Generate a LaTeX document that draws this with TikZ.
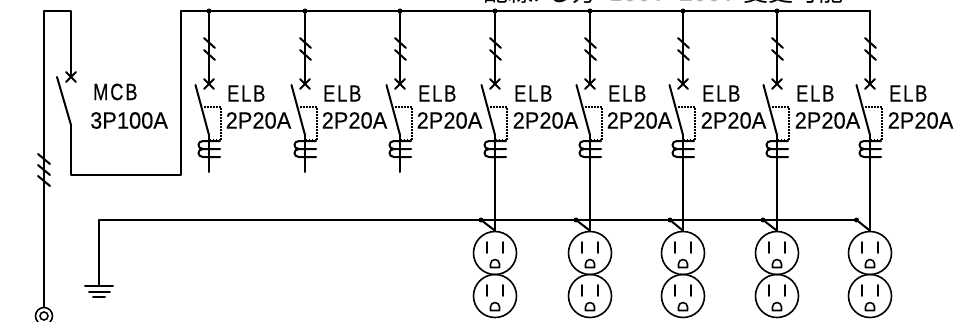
\documentclass[tikz,border=0pt]{standalone}
\usepackage{fontspec}
\setmainfont{Liberation Sans}
\newfontfamily\cjkf{Noto Sans CJK JP}
\tikzset{
  wire/.style={line width=2pt,line cap=round,line join=round},
  thin wire/.style={line width=1.6pt,line cap=round,line join=round},
  aux/.style={line width=1.2pt,dash pattern=on 1.5pt off 1.5pt},
  lab/.style={inner sep=0pt,font=\fontsize{23.5}{24}\selectfont\addfontfeature{FakeBold=0.3},xscale=.93,anchor=west},
  labn/.style={inner sep=0pt,font=\fontsize{23.5}{24}\selectfont\addfontfeature{LetterSpace=10,FakeBold=0.3},xscale=.78,anchor=west},
  dot/.style={circle,fill=black,inner sep=0pt,minimum size=5pt},
  sock/.style={circle,draw,line width=1.6pt,inner sep=0pt,minimum size=43pt},
}
\begin{document}
\begin{tikzpicture}[x=1pt,y=-1pt]
\useasboundingbox (0,0) rectangle (957,321);
\fill[white] (0,0) rectangle (957,321);
% clipped heading
\node[inner sep=0pt,anchor=base west,font=\fontsize{25}{25}\cjkf] (head) at (483,2) {配線: し方\hspace{12pt}\textcolor{gray!60}{100V\hspace{14pt}200V}\hspace{8pt}変更可能};
% feeder
\coordinate (c1) at (44,11);
\coordinate (c2) at (71,11);
\coordinate (mcbx) at (71,77);
\coordinate (mcbb) at (71,125);
\coordinate (c3) at (71,175);
\coordinate (c4) at (181,175);
\coordinate (c5) at (181,11);
\coordinate (busend) at (870,11);
\node[circle,draw,line width=1.6pt,inner sep=0pt,minimum size=17pt] (ring) at (44,316) {};
\node[circle,draw,line width=1.6pt,inner sep=0pt,minimum size=8pt] (ringi) at (44,316) {};
\draw[wire] (ring.north) -- (c1) -- (c2) -- (mcbx);
\draw[wire] (mcbb) -- (c3) -- (c4) -- (c5) -- (busend);
\draw[wire] (mcbx)+(-5,-5) -- +(5,5) (mcbx)+(-5,5) -- +(5,-5);
\draw[wire] (mcbb) -- (57,77);
\draw[wire] (38,154)--(50,164) (38,165)--(50,175) (38,176)--(50,186);
\node[labn] (mcb1) at (93,92) {MCB};
\node[lab] (mcb2) at (90,120.5) {3P100A};
% branches
\foreach \n/\x/\lbl in {1/209/227,2/305/323,3/400/418,4/495/514,5/590/608,6/683/702,7/777/796,8/870/889}{
  \coordinate (b\n) at (\x,11);
  \coordinate (x\n) at (\x,84);
  \coordinate (k\n) at (\x,135);
  \coordinate (e\n) at (\x,172);
  \ifnum\n<8 \node[dot] at (b\n) {};\fi
  \draw[wire] (b\n) -- (x\n);
  \draw[wire] (x\n)+(-5,-5) -- +(5,5) (x\n)+(-5,5) -- +(5,-5);
  \draw[wire] (\x-5,38) -- (\x+6,48) (\x-5,50) -- (\x+6,60);
  \draw[wire] (k\n) -- ++(-13.5,-50);
  \draw[aux] (\x-5,107) -- (\x+12,107) -- (\x+12,140) -- (\x,140);
  \draw[wire] (k\n) -- (e\n);
  \draw[wire] (\x+11,141) -- (\x-6,141) .. controls (\x-12,141) and (\x-12,149) .. (\x-6,149) -- (\x+11,149) (\x-6,149) .. controls (\x-12,149) and (\x-12,157) .. (\x-6,157) -- (\x+11,157);
  \node[labn] (ea\n) at (\lbl,93.5) {ELB};
  \node[lab] (eb\n) at (\lbl-1.5,120.5) {2P20A};
}
% earth
\coordinate (g0) at (99,286);
\coordinate (g1) at (99,220);
\coordinate (g2) at (857,220);
\draw[wire] (g0) -- (g1) -- (g2);
\draw[wire] (85,286) -- (113,286) (89,291.5) -- (110,291.5) (93,297) -- (105,297);
% outlets
\foreach \n/\x/\d in {4/495/481,5/590/576,6/683/670,7/777/763,8/870/856.5}{
  \node[sock] (s\n) at (\x,253) {};
  \node[sock] (t\n) at (\x,296) {};
  \node[dot] (d\n) at (\d,220) {};
  \draw[wire] (e\n) -- (s\n.north);
  \draw[wire] (d\n) -- (s\n.north);
  \foreach \yy in {253,296}{
    \draw[thin wire] (\x-8,\yy-11) -- (\x-8,\yy) (\x+8,\yy-11) -- (\x+8,\yy);
    \draw[thin wire] (\x-4.5,\yy+14.5) -- (\x+4.5,\yy+14.5) -- (\x+4.5,\yy+11) arc (0:-180:4.5) -- cycle;
  }
}
\end{tikzpicture}
\end{document}
